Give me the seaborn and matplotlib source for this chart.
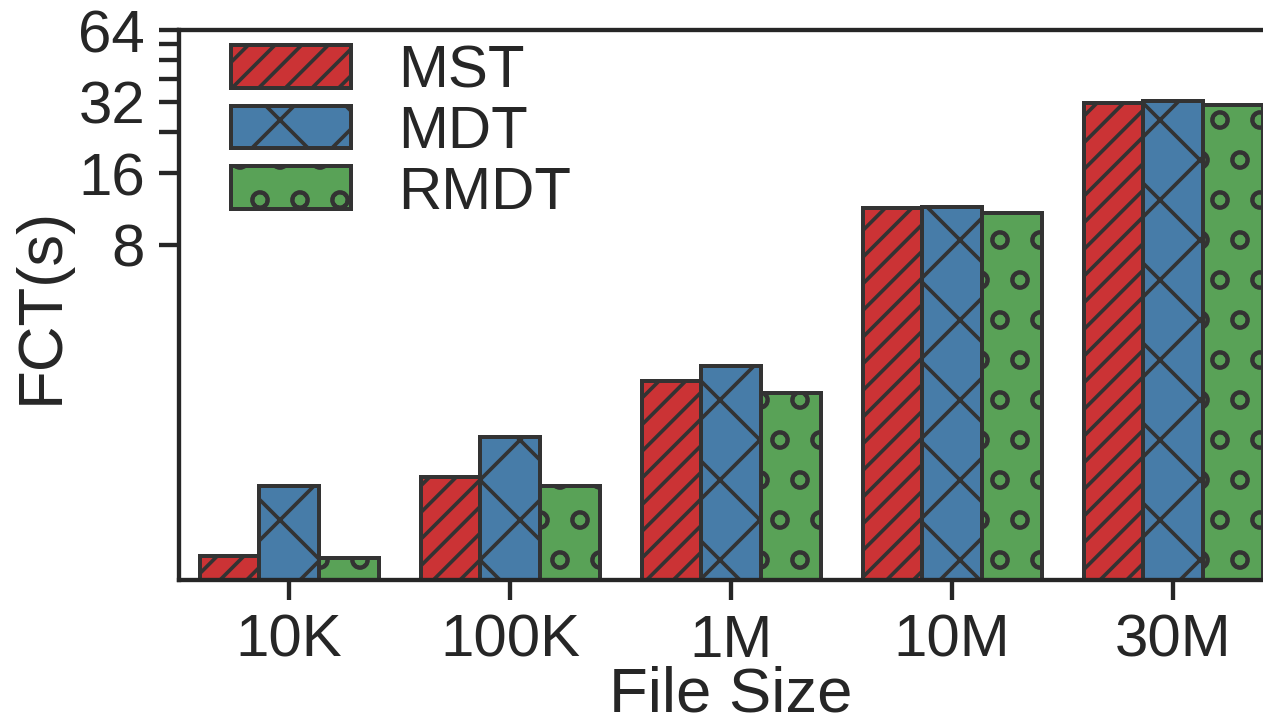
import numpy as np
import pandas as pd
import seaborn as sns
import matplotlib.pyplot as plt
from matplotlib.ticker import NullFormatter

# FCT (seconds) per file size
sizes = ["10K", "100K", "1M", "10M", "30M"]
schemes = ["MST", "MDT", "RMDT"]
mst = [0.39, 0.84, 2.14, 11.4, 31.8]
mdt = [0.77, 1.24, 2.47, 11.6, 32.4]
rmdt = [0.385, 0.77, 1.9, 10.9, 31.1]
hatches = ["///", "x", "o"]

major_ticks = [8, 16, 32, 64]
major_labels = ["8", "16", "32", "64"]
minor_ticks = [24, 40, 48, 56]

df = pd.DataFrame({
    "size": sizes * len(schemes),
    "scheme": np.repeat(schemes, len(sizes)),
    "fct": mst + mdt + rmdt,
})

sns.set_theme(style="ticks")
plt.rcParams["font.family"] = ["Liberation Sans", "DejaVu Sans"]
plt.rcParams["hatch.linewidth"] = 1.1
plt.rcParams["hatch.color"] = "0.2"
plt.rcParams["axes.linewidth"] = 1.3

dpi = 240
W, H = 1263, 718
fig = plt.figure(figsize=(W / dpi + 0.001, H / dpi + 0.001), dpi=dpi)
# axes run past the right edge like the cropped original
ax = fig.add_axes([178.5 / W, 1 - 580 / H, 1105 / W, 549.3 / H])
ax.set_yscale("log", base=2)

sns.barplot(data=df, x="size", y="fct", hue="scheme", order=sizes,
            hue_order=schemes, palette="Set1", width=0.81,
            edgecolor="0.2", linewidth=1.2, legend=False, ax=ax)

for cont, h in zip(ax.containers, hatches):
    for bar in cont:
        bar.set_hatch(h)

ax.set_xlim(-0.5, 4.5)
ax.set_ylim(0.31, 64)
ax.set_yticks(major_ticks, major_labels)
ax.set_yticks(minor_ticks, minor=True)
ax.yaxis.set_minor_formatter(NullFormatter())
ax.tick_params(axis="both", which="both", length=6, width=1.3,
               labelsize=18, pad=4)

ax.set_xlabel("File Size", fontsize=19, labelpad=-1)
ax.set_ylabel("FCT(s)", fontsize=19, labelpad=2.2)

ax.legend(ax.containers, schemes, loc="upper left", frameon=False,
          fontsize=18, handlelength=2.0, handleheight=0.72,
          handletextpad=0.8, labelspacing=0.09, borderaxespad=0,
          borderpad=0, bbox_to_anchor=(52 / 1105, 1 - 14 / 549.3))

plt.savefig("out.png", dpi=dpi)
